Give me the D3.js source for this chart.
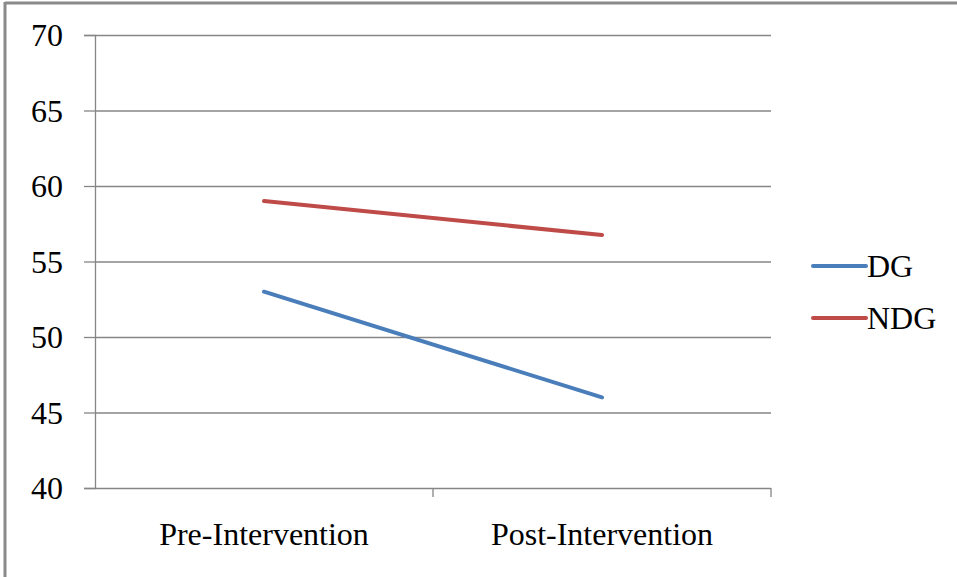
<!DOCTYPE html>
<html>
<head>
<meta charset="utf-8">
<script src="https://cdn.jsdelivr.net/npm/d3@7"></script>
<style>
  html, body { margin: 0; padding: 0; background: #fff; }
  svg { display: block; }
  svg text { font-family: "Liberation Serif", "Times New Roman", Times, Tinos, "Nimbus Roman", "Nimbus Roman No9 L", FreeSerif, "DejaVu Serif", "Noto Serif", serif !important; fill: #000; }
</style>
</head>
<body>
<svg id="chart" width="957" height="577"></svg>
<script>
const categories = ["Pre-Intervention", "Post-Intervention"];
const seriesNames = ["DG", "NDG"];
const dgValues = [53, 46];
const ndgValues = [59, 56.75];
const yTicks = [40, 45, 50, 55, 60, 65, 70];
const seriesColors = ["#4A7EBB", "#BE4B48"];

const FONT = "'Liberation Serif', 'Times New Roman', Times, Tinos, 'Nimbus Roman', FreeSerif, 'DejaVu Serif', 'Noto Serif', serif";
const svg = d3.select("#chart");
const W = 957, H = 577;
const plot = { left: 95, right: 771, top: 35, bottom: 488 };
const gridColor = "#868686";

svg.append("rect").attr("x", 0).attr("y", 0).attr("width", W).attr("height", H).attr("fill", "#fff");
// outer border (top and left visible)
svg.append("line").attr("x1", 5).attr("x2", W).attr("y1", 3).attr("y2", 3)
  .attr("stroke", "#8a8a8a").attr("stroke-width", 3);
svg.append("line").attr("x1", 5).attr("x2", 5).attr("y1", 2).attr("y2", H)
  .attr("stroke", "#8a8a8a").attr("stroke-width", 3);

const x = d3.scaleBand().domain(categories).range([plot.left, plot.right]).padding(0);
const y = d3.scaleLinear().domain([40, 70]).range([plot.bottom, plot.top]);

// y axis with gridlines
const yAxis = d3.axisLeft(y).tickValues(yTicks).tickSize(11).tickPadding(21);
const gy = svg.append("g").attr("transform", `translate(${plot.left},0)`).call(yAxis)
  .attr("font-family", FONT);
gy.select(".domain").attr("stroke", gridColor).attr("stroke-width", 1.3);
gy.selectAll(".tick line").attr("stroke", gridColor).attr("stroke-width", 1.3);
gy.selectAll(".tick text").attr("font-size", 32).attr("font-family", FONT).attr("fill", "#000")
  .attr("dy", "0.34em");
gy.selectAll(".tick").append("line")
  .attr("x1", 0).attr("x2", plot.right - plot.left)
  .attr("stroke", gridColor).attr("stroke-width", 1.3);

// x axis
const xAxis = d3.axisBottom(x).tickSize(0).tickPadding(34);
const gx = svg.append("g").attr("transform", `translate(0,${plot.bottom})`).call(xAxis)
  .attr("font-family", FONT);
gx.select(".domain").remove();
gx.selectAll(".tick text").attr("font-size", 32).attr("font-family", FONT).attr("fill", "#000");
// category boundary ticks
const bounds = categories.map(c => x(c) + x.bandwidth());
gx.selectAll(".bound").data(bounds).enter().append("line")
  .attr("x1", d => d).attr("x2", d => d).attr("y1", 0).attr("y2", 9)
  .attr("stroke", gridColor).attr("stroke-width", 1.3);

// series lines
const series = [dgValues, ndgValues];
const line = d3.line()
  .x((d, i) => x(categories[i]) + x.bandwidth() / 2)
  .y(d => y(d));
series.forEach((vals, si) => {
  svg.append("path").datum(vals).attr("d", line)
    .attr("fill", "none").attr("stroke", seriesColors[si])
    .attr("stroke-width", 4).attr("stroke-linecap", "round");
});

// legend
const legend = svg.append("g").attr("font-family", FONT);
seriesNames.forEach((name, i) => {
  const ly = 266 + i * 52;
  legend.append("line").attr("x1", 813).attr("x2", 866).attr("y1", ly).attr("y2", ly)
    .attr("stroke", seriesColors[i]).attr("stroke-width", 4).attr("stroke-linecap", "round");
  legend.append("text").attr("x", 867).attr("y", ly + 11).attr("font-size", 32)
    .attr("font-family", FONT).text(name);
});
</script>
</body>
</html>
